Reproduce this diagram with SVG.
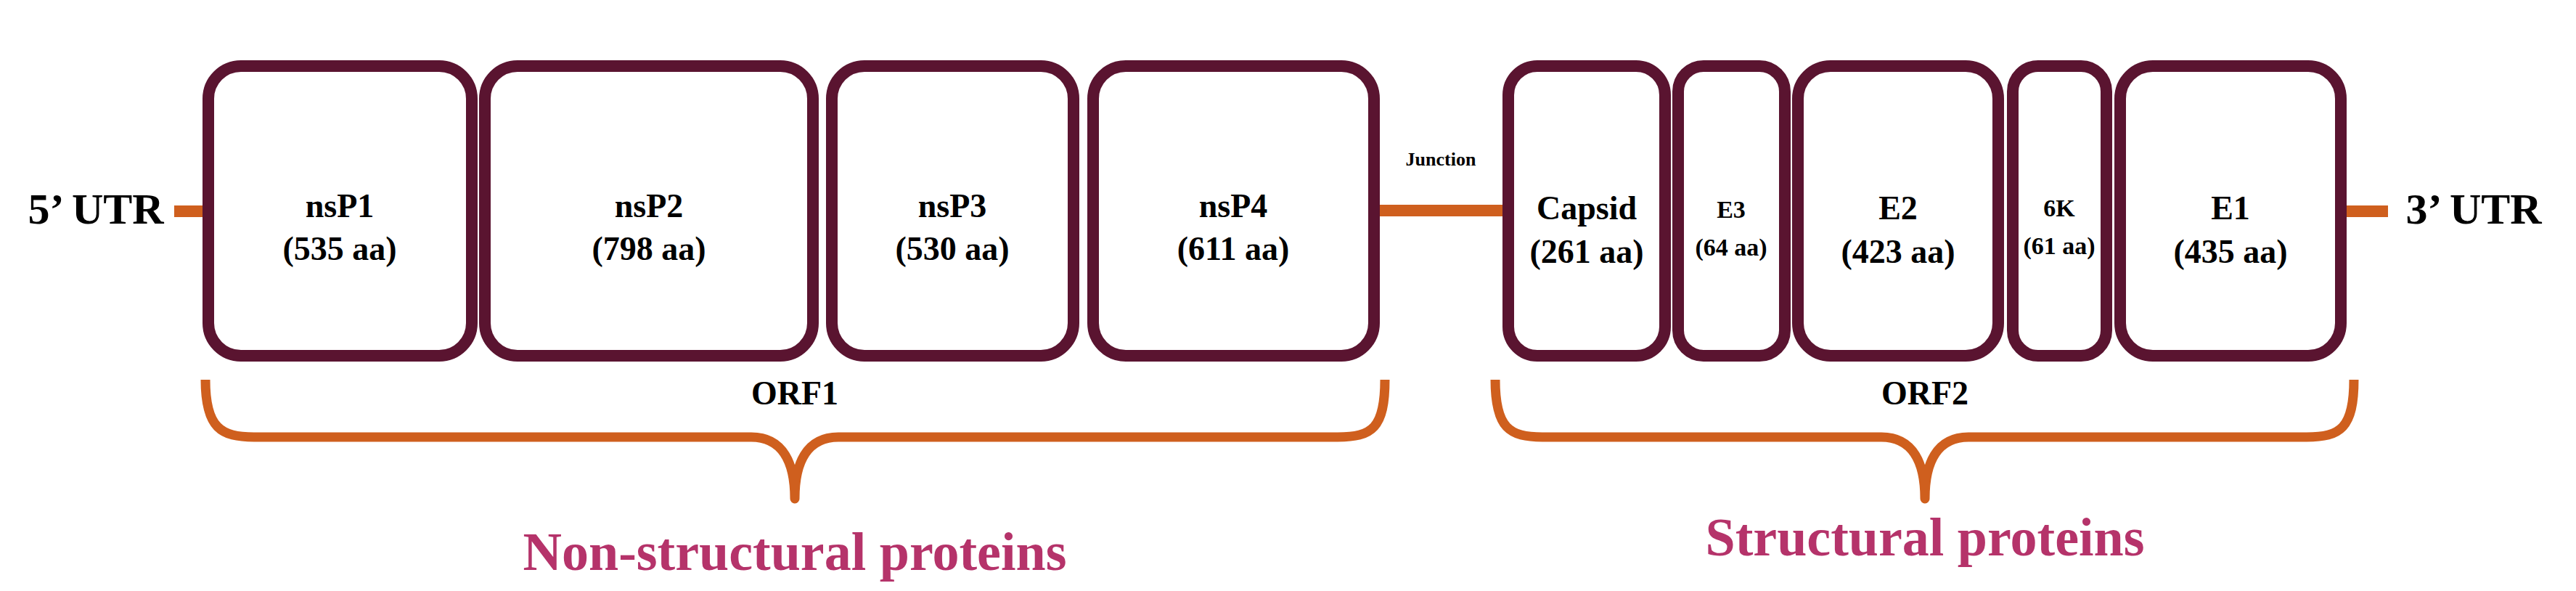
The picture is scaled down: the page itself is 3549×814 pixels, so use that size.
<svg xmlns="http://www.w3.org/2000/svg" width="3549" height="814" viewBox="0 0 3549 814">
<style>
.box{fill:#fff;stroke:#5a1430;stroke-width:16}
.ln{stroke:#cf5f1e;stroke-width:16;fill:none}
.br{stroke:#cf5f1e;stroke-width:13;fill:none;stroke-linejoin:round}
text{font-family:"Liberation Serif",serif;font-weight:bold;text-anchor:middle;fill:#000}
.lb{font-size:46px}
.sm{font-size:34px}
.utr{font-size:60px}
.cat{font-size:74px;fill:#b5336a}
</style>
<rect width="3549" height="814" fill="#fff"/>
<g id="connectors">
<line class="ln" x1="240" y1="291" x2="290" y2="291"/>
<line class="ln" x1="1895" y1="290" x2="2075" y2="290"/>
<line class="ln" x1="3228" y1="291" x2="3290" y2="291"/>
</g>
<text class="utr" x="132" y="308">5’ UTR</text>
<text class="utr" x="3408" y="308">3’ UTR</text>
<text x="1985" y="228" style="font-size:26px">Junction</text>
<g id="nsP1"><rect class="box" x="287" y="91" width="363" height="399" rx="45"/><text class="lb" x="468" y="299">nsP1</text><text class="lb" x="468" y="358">(535 aa)</text></g>
<g id="nsP2"><rect class="box" x="668" y="91" width="452" height="399" rx="45"/><text class="lb" x="894" y="299">nsP2</text><text class="lb" x="894" y="358">(798 aa)</text></g>
<g id="nsP3"><rect class="box" x="1146" y="91" width="333" height="399" rx="45"/><text class="lb" x="1312" y="299">nsP3</text><text class="lb" x="1312" y="358">(530 aa)</text></g>
<g id="nsP4"><rect class="box" x="1506" y="91" width="387" height="399" rx="45"/><text class="lb" x="1699" y="299">nsP4</text><text class="lb" x="1699" y="358">(611 aa)</text></g>
<g id="Capsid"><rect class="box" x="2078" y="91" width="216" height="399" rx="40"/><text class="lb" x="2186" y="302">Capsid</text><text class="lb" x="2186" y="362">(261 aa)</text></g>
<g id="E3"><rect class="box" x="2312" y="91" width="147" height="399" rx="35"/><text class="sm" x="2385" y="300">E3</text><text class="sm" x="2385" y="352">(64 aa)</text></g>
<g id="E2"><rect class="box" x="2477" y="91" width="276" height="399" rx="45"/><text class="lb" x="2615" y="302">E2</text><text class="lb" x="2615" y="362">(423 aa)</text></g>
<g id="6K"><rect class="box" x="2773" y="91" width="129" height="399" rx="35"/><text class="sm" x="2837" y="298">6K</text><text class="sm" x="2837" y="350">(61 aa)</text></g>
<g id="E1"><rect class="box" x="2921" y="91" width="304" height="399" rx="45"/><text class="lb" x="3073" y="302">E1</text><text class="lb" x="3073" y="362">(435 aa)</text></g>
<g id="braces">
<path class="br" d="M283,523 C283,590 305,602 350,602 L1035,602 C1080,602 1095,640 1095,687 C1095,640 1110,602 1155,602 L1843,602 C1890,602 1908,590 1908,523"/>
<path class="br" d="M2060,523 C2060,590 2080,602 2125,602 L2592,602 C2637,602 2652,640 2652,687 C2652,640 2667,602 2712,602 L3178,602 C3224,602 3243,590 3243,523"/>
</g>
<text class="lb" x="1095" y="557">ORF1</text>
<text class="lb" x="2652" y="557">ORF2</text>
<text class="cat" x="1095" y="785">Non-structural proteins</text>
<text class="cat" x="2652" y="765">Structural proteins</text>
</svg>
